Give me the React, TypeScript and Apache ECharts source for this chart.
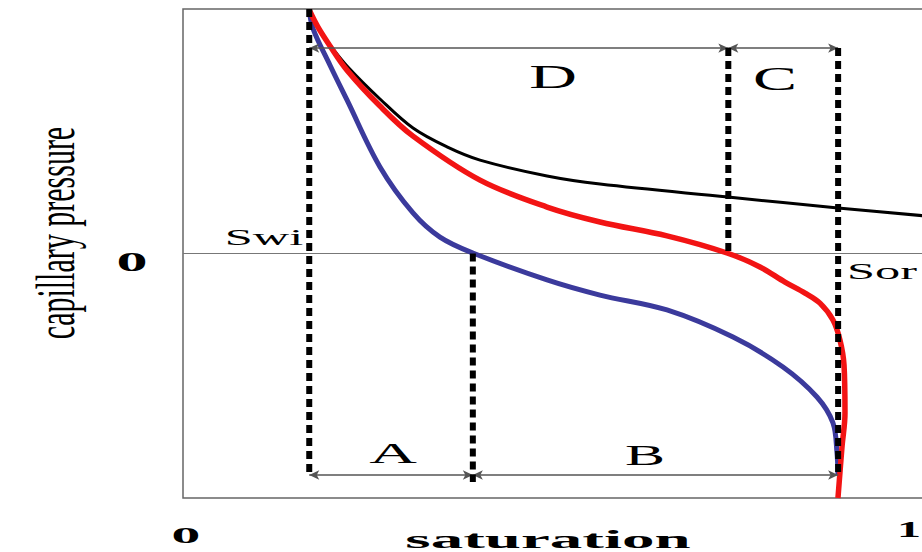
import { useEffect, useRef } from 'react';
import * as echarts from 'echarts';

// Saturation (x, 0..1) vs capillary pressure (y, -1..1)
const drainageCurve: number[][] = [
  [0.169, 0.996], [0.1807, 0.927], [0.1968, 0.853], [0.2195, 0.767], [0.2637, 0.632],
  [0.3079, 0.513], [0.3534, 0.436], [0.3976, 0.382], [0.4873, 0.317], [0.5582, 0.284],
  [0.7296, 0.231], [0.8768, 0.186], [1.0, 0.152],
];
const imbibitionCurve: number[][] = [
  [0.169, 0.996], [0.1807, 0.926], [0.1968, 0.849], [0.2195, 0.75], [0.2637, 0.603],
  [0.3079, 0.48], [0.3976, 0.3], [0.4873, 0.19], [0.5582, 0.129], [0.6479, 0.072],
  [0.7282, 0.002], [0.7724, -0.055], [0.8059, -0.117], [0.8327, -0.162], [0.8527, -0.203],
  [0.8701, -0.272], [0.8795, -0.354], [0.8849, -0.456], [0.8862, -0.652], [0.8822, -0.791],
  [0.8768, -1.0],
];
const secondaryCurve: number[][] = [
  [0.169, 0.996], [0.174, 0.92], [0.1968, 0.77], [0.2195, 0.628], [0.2637, 0.354],
  [0.3079, 0.166], [0.344, 0.067], [0.388, 0.002], [0.4873, -0.108], [0.5582, -0.17],
  [0.6479, -0.231], [0.7363, -0.342], [0.8032, -0.464], [0.8487, -0.587], [0.8701, -0.693],
  [0.8755, -0.816], [0.8768, -0.906],
];
const zeroLine: number[][] = [[0, 0], [1, 0]];

// dashed boundaries
const swiLine: number[][] = [[0.169, 1], [0.169, -0.906]];
const zoneABLine: number[][] = [[0.388, 0], [0.388, -0.935]];
const zoneDCLine: number[][] = [[0.73, 0.84], [0.73, 0]];
const sorLine: number[][] = [[0.877, 0.84], [0.877, -0.906]];

// arrow spans [x1, x2, y]
const arrowSpans: number[][] = [
  [0.169, 0.73, 0.84], [0.73, 0.877, 0.84],
  [0.169, 0.388, -0.906], [0.388, 0.877, -0.906],
];

const xTickValues = [0, 1];
const xTickLabels = ['0', '1'];
const yTickValues = [0];
const yTickLabels = ['0'];

const SERIF = '"Liberation Serif", "Times New Roman", serif';

export default function App() {
  const ref = useRef<HTMLDivElement>(null);
  useEffect(() => {
    const chart = echarts.init(ref.current!, null, { renderer: 'svg' });
    const dashed = (data: number[][]) => ({
      type: 'line', data, symbol: 'none', z: 5,
      lineStyle: { color: '#000', width: 6, type: [8, 5], cap: 'butt' },
    });
    chart.setOption({
      animation: false,
      grid: {
        left: 183, top: 9, width: 747, height: 489, outerBoundsMode: 'none', containLabel: false,
        show: true, borderColor: '#666', borderWidth: 1.5, backgroundColor: 'transparent',
      },
      xAxis: { type: 'value', min: 0, max: 1, axisLine: { show: false }, axisTick: { show: false }, axisLabel: { show: false }, splitLine: { show: false } },
      yAxis: { type: 'value', min: -1, max: 1, axisLine: { show: false }, axisTick: { show: false }, axisLabel: { show: false }, splitLine: { show: false } },
      series: [
        { type: 'line', data: zeroLine, symbol: 'none', lineStyle: { color: '#777', width: 1.2 }, z: 1 },
        {
          type: 'line', data: [], symbol: 'none', z: 2,
          markLine: {
            silent: true, symbol: ['arrow', 'arrow'], symbolSize: [7, 10],
            label: { show: false },
            lineStyle: { color: '#555', width: 1.5, type: 'solid' },
            data: arrowSpans.map(([a, b, y]) => [{ coord: [a, y] }, { coord: [b, y] }]),
          },
        },
        { type: 'line', data: drainageCurve, symbol: 'none', smooth: 0.35, lineStyle: { color: '#000', width: 3 }, z: 3 },
        { type: 'line', data: secondaryCurve, symbol: 'none', smooth: 0.35, lineStyle: { color: '#3b3a9c', width: 5 }, z: 3 },
        { type: 'line', data: imbibitionCurve, symbol: 'none', smooth: 0.35, lineStyle: { color: '#f21414', width: 5.5 }, z: 4 },
        dashed(swiLine), dashed(zoneABLine), dashed(zoneDCLine), dashed(sorLine),
      ],
    });
    const px = (v: number[]) => chart.convertToPixel({ gridIndex: 0 }, v) as number[];
    const txt = (text: string, x: number, y: number, size: number, sx: number, bold = false) => ({
      type: 'text', x, y, scaleX: sx, z: 20,
      style: { text, fontFamily: SERIF, fontSize: size, fontWeight: bold ? 'bold' : 'normal', fill: '#000', textAlign: 'center', textVerticalAlign: 'middle' },
    });
    const graphics: any[] = [];
    xTickValues.forEach((v, i) => {
      const p = px([v, -1]);
      const x = i === 0 ? p[0] + 3 : Math.min(p[0] - 10, 909);
      graphics.push(txt(xTickLabels[i], x, i === 0 ? 535 : 529, 24, i === 0 ? 2.4 : 2.0, true));
    });
    yTickValues.forEach((v, i) => {
      const p = px([0, v]);
      graphics.push(txt(yTickLabels[i], 132, p[1] + 8.5, 27, 2.3, true));
    });
    graphics.push(txt('saturation', 548, 539, 26, 2.5, true));
    graphics.push({
      type: 'text', x: 55, y: 233, rotation: Math.PI / 2, scaleY: 1.8, z: 20,
      style: { text: 'capillary pressure', fontFamily: SERIF, fontSize: 30, fill: '#000', textAlign: 'center', textVerticalAlign: 'middle' },
    });
    graphics.push(txt('Swi', 264, 237, 24, 2.1));
    graphics.push(txt('Sor', 882, 271, 24, 2.1));
    graphics.push(txt('D', 553, 77, 33, 2.0));
    graphics.push(txt('C', 775, 79, 33, 2.0));
    graphics.push(txt('A', 393, 453, 30, 2.2));
    graphics.push(txt('B', 645, 455, 30, 2.0));
    chart.setOption({ graphic: graphics });
    return () => chart.dispose();
  }, []);
  return <div ref={ref} style={{ position: 'fixed', left: 0, top: 0, width: 922, height: 552, background: '#fff' }} />;
}
